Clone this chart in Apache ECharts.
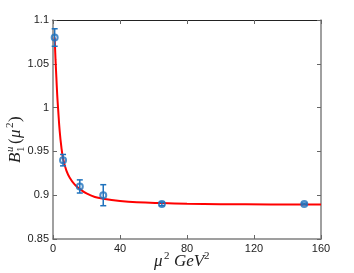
<!DOCTYPE html>
<html><head><meta charset="utf-8">
<script src="https://cdn.jsdelivr.net/npm/echarts@6/dist/echarts.min.js"></script>
<style>html,body{margin:0;padding:0;background:#fff}#c{width:354px;height:273px}</style>
</head><body><div id="c"></div>
<script>
const muSq = [1, 6, 16, 30, 65, 150];
const bValues = [1.08, 0.94, 0.91, 0.90, 0.89, 0.89];
const bErrors = [0.010, 0.0065, 0.0075, 0.012, 0.002, 0.001];
const fitX = [1, 1.5, 2, 2.5, 3, 4, 5, 6, 8, 10, 13, 16, 20, 25, 30, 40, 50, 65, 80, 100, 130, 160];
const fitY = [1.08, 1.055, 1.035, 1.015, 1.0, 0.973, 0.955, 0.942, 0.928, 0.92, 0.912, 0.907, 0.902, 0.898, 0.896, 0.8935, 0.892, 0.891, 0.8903, 0.8898, 0.8895, 0.8894];
const xTicks = [0, 40, 80, 120, 160];
const yTicks = [0.85, 0.9, 0.95, 1, 1.05, 1.1];

const blue = '#1f72bd';
const ink = '#222';
const chart = echarts.init(document.getElementById('c'));
const axisCommon = {
  axisTick: {show: true, inside: true, length: 4, lineStyle: {color: '#666'}},
  splitLine: {show: false}
};
const serif = 'Liberation Serif';
function t(text, x, y, size, italic) {
  return {type: 'text', x: x, y: y, style: {text: text, fill: ink, font: (italic ? 'italic ' : '') + size + 'px "' + serif + '"', textVerticalAlign: 'middle', textAlign: 'left'}};
}
chart.setOption({
  animation: false,
  grid: {left: 53, right: 33, top: 20, bottom: 34, outerBoundsMode: 'none', containLabel: false},
  graphic: [
    {type: 'group', x: 16, y: 132, rotation: Math.PI / 2, children: [
      t('B', -31, 0, 17, true),
      t('1', -20, 5, 11, false),
      t('u', -20, -6, 11, true),
      t('(', -12, 0, 17, false),
      t('μ', -6, 0, 17, true),
      t('2', 4, -6, 11, false),
      t(')', 10, 0, 17, false)
    ]},
    {type: 'group', x: 182, y: 262, children: [
      t('μ', -28, 0, 17, true),
      t('2', -18, -6, 11, false),
      t('GeV', -8, 0, 17, true),
      t('2', 22, -6, 11, false)
    ]}
  ],
  xAxis: [
    Object.assign({
      type: 'value', min: 0, max: 160, interval: 40,
      axisLine: {show: true, onZero: false, lineStyle: {color: '#808080', width: 1.5}},
      axisLabel: {color: ink, fontSize: 11, fontFamily: 'Liberation Sans', margin: 4,
        formatter: v => xTicks.includes(v) ? String(v) : ''}
    }, axisCommon),
    Object.assign({
      type: 'value', min: 0, max: 160, interval: 40, position: 'top',
      axisLine: {show: true, onZero: false, lineStyle: {color: '#222', width: 1}},
      axisLabel: {show: false}
    }, axisCommon)
  ],
  yAxis: [
    Object.assign({
      type: 'value', min: 0.85, max: 1.1, interval: 0.05,
      axisLine: {show: true, onZero: false, lineStyle: {color: '#808080', width: 1.5}},
      axisLabel: {color: ink, fontSize: 11, fontFamily: 'Liberation Sans', margin: 4,
        formatter: v => { const f = yTicks.find(y => Math.abs(y - v) < 1e-6); return f === undefined ? '' : String(f); }}
    }, axisCommon),
    Object.assign({
      type: 'value', min: 0.85, max: 1.1, interval: 0.05, position: 'right',
      axisLine: {show: true, onZero: false, lineStyle: {color: '#808080', width: 1.5}},
      axisLabel: {show: false}
    }, axisCommon)
  ],
  series: [
    {
      type: 'line', smooth: 0.4, showSymbol: false, symbol: 'none',
      data: fitX.map((x, i) => [x, fitY[i]]),
      lineStyle: {color: '#ff0000', width: 2}, z: 3
    },
    {
      type: 'custom', z: 4,
      data: muSq.map((x, i) => [x, bValues[i] - bErrors[i], bValues[i] + bErrors[i]]),
      renderItem: (params, api) => {
        const lo = api.coord([api.value(0), api.value(1)]);
        const hi = api.coord([api.value(0), api.value(2)]);
        const w = 3;
        const st = {stroke: blue, lineWidth: 1.5};
        return {type: 'group', children: [
          {type: 'line', shape: {x1: lo[0], y1: lo[1], x2: hi[0], y2: hi[1]}, style: st},
          {type: 'line', shape: {x1: lo[0]-w, y1: lo[1], x2: lo[0]+w, y2: lo[1]}, style: st},
          {type: 'line', shape: {x1: hi[0]-w, y1: hi[1], x2: hi[0]+w, y2: hi[1]}, style: st}
        ]};
      }
    },
    {
      type: 'scatter', z: 5, symbol: 'circle', symbolSize: 6,
      data: muSq.map((x, i) => [x, bValues[i]]),
      itemStyle: {color: 'rgba(255,255,255,0)', borderColor: blue, borderWidth: 2}
    }
  ]
});
</script></body></html>
